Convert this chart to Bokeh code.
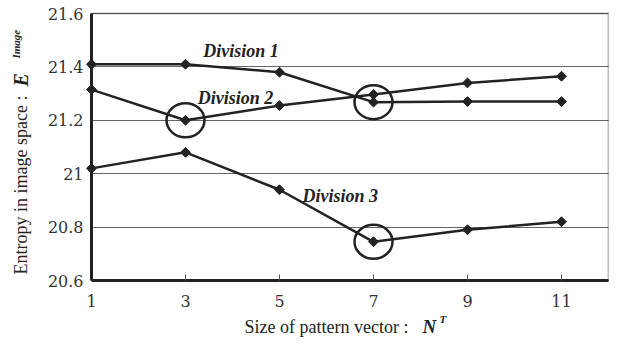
import numpy as np
from bokeh.plotting import figure
from bokeh.models import Label, FixedTicker, Range1d, BoxAnnotation
from bokeh.embed import file_html
from bokeh.resources import INLINE

# ---- data ----
pattern_size = [1, 3, 5, 7, 9, 11]
division_1 = [21.41, 21.41, 21.38, 21.268, 21.27, 21.27]
division_2 = [21.315, 21.20, 21.255, 21.297, 21.34, 21.365]
division_3 = [21.02, 21.08, 20.94, 20.745, 20.79, 20.82]
series_names = ["Division 1", "Division 2", "Division 3"]
highlighted = [("Division 2", 3), ("Division 1", 7), ("Division 3", 7)]
x_ticks = [1, 3, 5, 7, 9, 11]
y_ticks = [20.6, 20.8, 21.0, 21.2, 21.4, 21.6]
y_tick_labels = ["20.6", "20.8", "21", "21.2", "21.4", "21.6"]
x_title = "Size of pattern vector : "
x_title_sym, x_title_sup = "N", "T"
y_title = "Entropy in image space : "
y_title_sym, y_title_sup = "E", "Image"

series = dict(zip(series_names, [division_1, division_2, division_3]))

# ---- layout (pixels) ----
W, H = 609, 337
X_MIN, X_MAX = 1, 12
Y_MIN, Y_MAX = 20.6, 21.6
FL, FR, FT, FB = 91, 608, 13, 280          # data-area edges on the canvas
xs = (FR - FL) / (X_MAX - X_MIN)
ys = (FB - FT) / (Y_MAX - Y_MIN)

INK = "#222222"
SERIF = "Liberation Serif"

p = figure(width=W, height=H,
           x_range=Range1d(X_MIN - FL / xs, X_MAX + (W - FR) / xs),
           y_range=Range1d(Y_MIN - (H - FB) / ys, Y_MAX + FT / ys),
           output_backend="svg", toolbar_location=None,
           min_border=0, min_border_left=0, min_border_right=0,
           min_border_top=0, min_border_bottom=0)
p.background_fill_color = "white"
p.border_fill_color = "white"
p.outline_line_color = None

# grid
p.xgrid.grid_line_color = None
p.ygrid.ticker = FixedTicker(ticks=y_ticks)
try:
    p.ygrid.cross_bounds = (X_MIN, X_MAX)
    p.ygrid.bounds = (Y_MIN, Y_MAX)
    p.ygrid.grid_line_color = "#666666"
    p.ygrid.grid_line_width = 1
except Exception:
    p.ygrid.grid_line_color = None
    p.segment(x0=[X_MIN] * len(y_ticks), x1=[X_MAX] * len(y_ticks),
              y0=y_ticks, y1=y_ticks, line_color="#666666", line_width=1)

# plot box (top / right edges)
p.add_layout(BoxAnnotation(left=X_MIN, right=X_MAX, bottom=Y_MIN, top=Y_MAX,
                           fill_alpha=0, line_color=INK, line_width=2,
                           level="underlay"))

# axes
p.xaxis.fixed_location = Y_MIN
p.xaxis.bounds = (X_MIN, X_MAX)
p.yaxis.fixed_location = X_MIN
p.yaxis.bounds = (Y_MIN, Y_MAX)
p.xaxis.ticker = FixedTicker(ticks=x_ticks)
p.yaxis.ticker = FixedTicker(ticks=y_ticks)
p.yaxis.major_label_overrides = dict(zip(y_ticks, y_tick_labels))
for ax in (p.xaxis, p.yaxis):
    ax.axis_line_color = INK
    ax.axis_line_width = 3
    ax.minor_tick_line_color = None
    ax.major_label_text_font = "DejaVu Serif"
    ax.major_label_text_font_size = "16px"
    ax.major_label_text_color = "#333333"
p.xaxis.major_tick_in = 6
p.xaxis.major_tick_out = 0
p.xaxis.major_tick_line_color = "#555555"
p.xaxis.major_label_standoff = 14
p.yaxis.major_tick_line_color = None
p.yaxis.major_tick_in = 0
p.yaxis.major_tick_out = 0
p.yaxis.major_label_standoff = 8

# lines & markers
for name in series_names:
    p.line(pattern_size, series[name], line_color=INK, line_width=2.5)
    p.scatter(pattern_size, series[name], marker="square", angle=np.pi / 4,
              size=7, fill_color=INK, line_color=INK)

# highlight circles
hx = [x for _, x in highlighted]
hy = [series[n][pattern_size.index(x)] for n, x in highlighted]
p.ellipse(x=hx, y=hy, width=38, height=34,
          width_units="screen", height_units="screen",
          fill_color=None, line_color=INK, line_width=2.5)

# series labels
for name, lx, ly in [("Division 1", 3.38, 21.458),
                     ("Division 2", 3.26, 21.283),
                     ("Division 3", 5.49, 20.918)]:
    p.add_layout(Label(x=lx, y=ly, text=name, text_font=SERIF,
                       text_font_style="bold italic", text_font_size="18px",
                       text_color=INK, text_baseline="middle", text_align="left"))

# axis titles (canvas pixel positions)
def title(text, cx, cy, size, style="normal", angle=0):
    p.add_layout(Label(x=cx, y=H - cy, x_units="screen", y_units="screen",
                       text=text, text_font=SERIF, text_font_style=style,
                       text_font_size=size, text_color=INK,
                       text_baseline="alphabetic", text_align="left",
                       angle=angle, angle_units="deg"))

title(x_title, 244, 326, "18px")
title(x_title_sym, 422, 326, "19px", "bold italic")
title(x_title_sup, 439, 318, "11px", "bold italic")

title(y_title, 20, 274, "18px", angle=90)
title(y_title_sym, 20, 86, "20px", "bold italic", angle=90)
title(y_title_sup, 15, 58, "11px", "bold italic", angle=90)

open("out.html", "w").write(file_html(p, INLINE))
